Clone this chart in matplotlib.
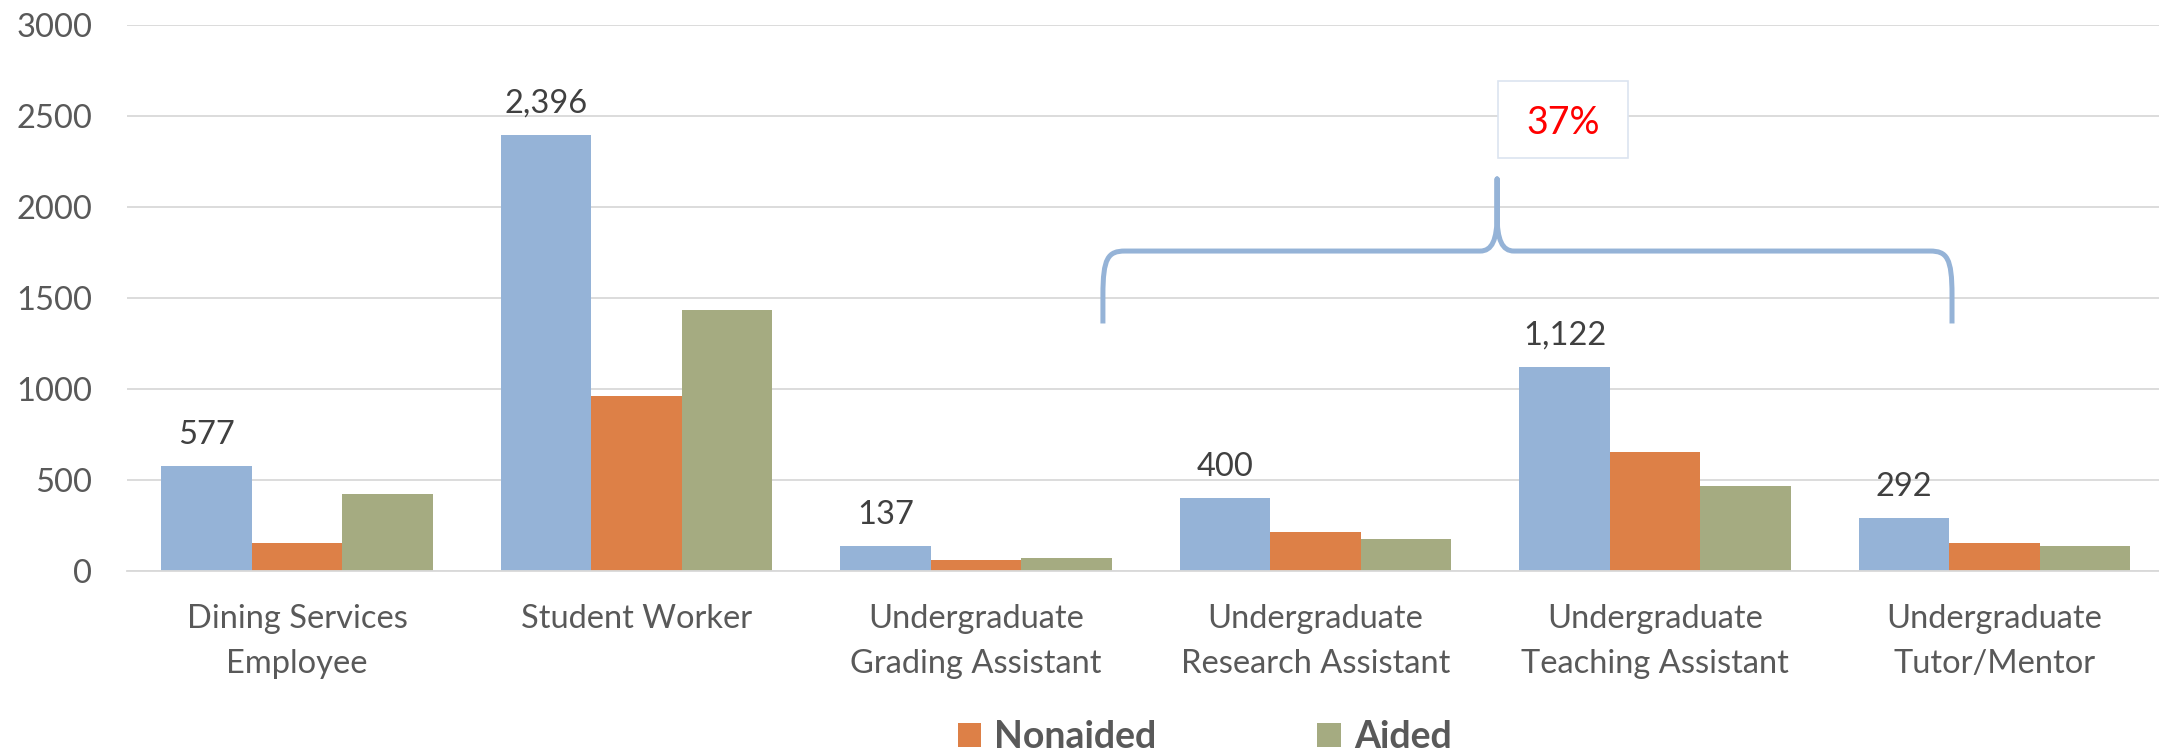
import matplotlib
matplotlib.use("Agg")
import matplotlib.pyplot as plt
import numpy as np
from matplotlib.path import Path
from matplotlib.patches import PathPatch, Rectangle, Patch

plt.rcParams['font.family'] = ['Lato', 'DejaVu Sans']

# ---- data ----
categories = ["Dining Services\nEmployee", "Student Worker",
              "Undergraduate\nGrading Assistant", "Undergraduate\nResearch Assistant",
              "Undergraduate\nTeaching Assistant", "Undergraduate\nTutor/Mentor"]
total = [577, 2396, 137, 400, 1122, 292]
nonaided = [153, 961, 63, 217, 652, 152]
aided = [422, 1433, 72, 178, 467, 139]
total_labels = ["577", "2,396", "137", "400", "1,122", "292"]
series_names = ["Nonaided", "Aided"]
yticks = [0, 500, 1000, 1500, 2000, 2500, 3000]
callout_text = "37%"

# ---- styles ----
c_total = "#95B3D7"
c_non = "#DD8047"
c_aid = "#A5AB81"
c_grid = "#D9D9D9"
c_tick = "#595959"
c_lab = "#404040"

W, H = 2159, 753
fig = plt.figure(figsize=(W / 100, H / 100), dpi=100)
ax = fig.add_axes([127.2 / W, (H - 571) / H, 2037 / W, 546 / H])

x = np.arange(len(categories))
w = 0.2663
ax.bar(x - w, total, w, color=c_total, zorder=3)
ax.bar(x, nonaided, w, color=c_non, zorder=3)
ax.bar(x + w, aided, w, color=c_aid, zorder=3)

for xi, v, s in zip(x, total, total_labels):
    ax.annotate(s, (xi - w, v), xytext=(0, 16), textcoords="offset points",
                ha="center", va="baseline", fontsize=23.5, color=c_lab)

ax.set_xlim(-0.5, len(categories) - 0.5)
ax.set_ylim(0, 3000)
ax.set_yticks(yticks)
ax.set_yticklabels([str(t) for t in yticks], fontsize=23.5, color=c_tick)
ax.set_xticks(x)
ax.set_xticklabels(categories, fontsize=23.5, color=c_tick, linespacing=1.62)
ax.tick_params(axis="both", length=0)
ax.tick_params(axis="y", pad=25)
ax.tick_params(axis="x", pad=24)
ax.yaxis.grid(True, color=c_grid, linewidth=1.3, zorder=0)
ax.set_axisbelow(True)
for sp in ["left", "right", "top"]:
    ax.spines[sp].set_visible(False)
ax.spines["bottom"].set_color(c_grid)
ax.spines["bottom"].set_linewidth(1.3)
ax.spines["bottom"].set_zorder(4)

# ---- curly brace annotation (data coordinates) ----
xl, xc, xr = 2.374, 3.535, 4.875
yb, yh, yt = 1360, 1758, 2154
verts = [
    (xl, yb), (xl, 1516),
    (xl, 1720), (xl + 0.015, yh), (xl + 0.065, yh),
    (xc - 0.05, yh),
    (xc - 0.015, yh), (xc, 1819), (xc, 1956),
    (xc, yt),
    (xc, 1956),
    (xc, 1819), (xc + 0.015, yh), (xc + 0.05, yh),
    (xr - 0.065, yh),
    (xr - 0.015, yh), (xr, 1720), (xr, 1516),
    (xr, yb),
]
codes = [Path.MOVETO, Path.LINETO,
         Path.CURVE4, Path.CURVE4, Path.CURVE4,
         Path.LINETO,
         Path.CURVE4, Path.CURVE4, Path.CURVE4,
         Path.LINETO,
         Path.LINETO,
         Path.CURVE4, Path.CURVE4, Path.CURVE4,
         Path.LINETO,
         Path.CURVE4, Path.CURVE4, Path.CURVE4,
         Path.LINETO]
ax.add_patch(PathPatch(Path(verts, codes), facecolor="none", edgecolor=c_total,
                       linewidth=3.6, joinstyle="round", capstyle="butt", zorder=5))

# ---- callout box ----
bx0, bx1, by0, by1 = 3.538, 3.921, 2269, 2692
ax.add_patch(Rectangle((bx0, by0), bx1 - bx0, by1 - by0, facecolor="white",
                       edgecolor="#DCE4F0", linewidth=1.2, zorder=5))
ax.text((bx0 + bx1) / 2, 2401, callout_text, ha="center", va="baseline",
        fontsize=27, color="#FF0000", zorder=6)

# ---- legend ----
handles = [Patch(facecolor=c_non, edgecolor="none"), Patch(facecolor=c_aid, edgecolor="none")]
leg = fig.legend(handles, series_names, loc="center", bbox_to_anchor=(1204.5 / W, 1 - 737 / H),
                 ncol=2, frameon=False, handlelength=0.62, handleheight=0.62,
                 handletextpad=0.35, columnspacing=4.3,
                 prop={"size": 27, "weight": "bold"})
for t in leg.get_texts():
    t.set_color(c_tick)

fig.savefig("out.png", dpi=100)
